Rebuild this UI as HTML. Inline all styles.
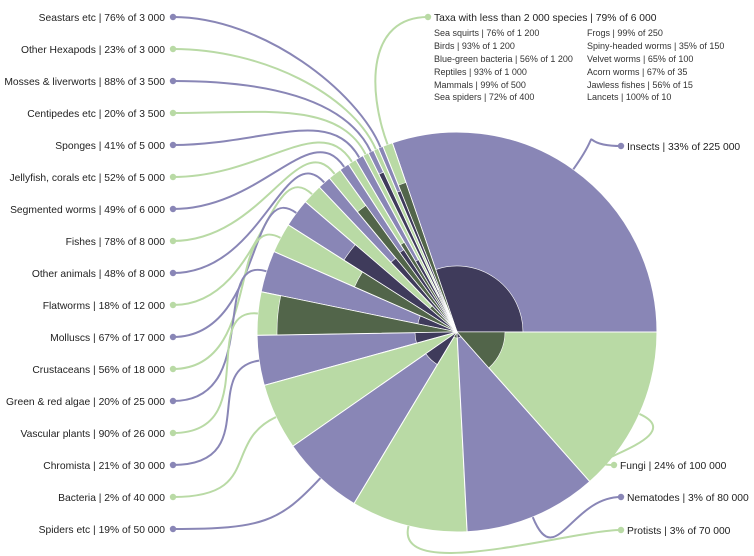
<!DOCTYPE html>
<html><head><meta charset="utf-8"><style>
body{margin:0;background:#fff;}
svg{display:block;font-family:"Liberation Sans",sans-serif;}
</style></head><body>
<svg id="chart" width="754" height="556" viewBox="0 0 754 556" xmlns="http://www.w3.org/2000/svg">
<g id="slices"></g>
<g id="links"></g>
<g id="labels"></g>
<g font-size="9" fill="#333">
<text x="434" y="36">Sea squirts | 76% of 1 200</text>
<text x="434" y="49">Birds | 93% of 1 200</text>
<text x="434" y="62">Blue-green bacteria | 56% of 1 200</text>
<text x="434" y="75">Reptiles | 93% of 1 000</text>
<text x="434" y="88">Mammals | 99% of 500</text>
<text x="434" y="100">Sea spiders | 72% of 400</text>
<text x="587" y="36">Frogs | 99% of 250</text>
<text x="587" y="49">Spiny-headed worms | 35% of 150</text>
<text x="587" y="62">Velvet worms | 65% of 100</text>
<text x="587" y="75">Acorn worms | 67% of 35</text>
<text x="587" y="88">Jawless fishes | 56% of 15</text>
<text x="587" y="100">Lancets | 100% of 10</text>
</g>
</svg>
<script>
const names=["Insects","Taxa with less than 2 000 species","Seastars etc","Other Hexapods","Mosses & liverworts","Centipedes etc","Sponges","Jellyfish, corals etc","Segmented worms","Fishes","Other animals","Flatworms","Molluscs","Crustaceans","Green & red algae","Vascular plants","Chromista","Bacteria","Spiders etc","Protists","Nematodes","Fungi"];
const counts=[225000,6000,3000,3000,3500,3500,5000,5000,6000,8000,8000,12000,17000,18000,25000,26000,30000,40000,50000,70000,80000,100000];
const pcts=[33,79,76,23,88,20,41,52,49,78,48,18,67,56,20,90,21,2,19,3,3,24];
const countLabels=["225 000","6 000","3 000","3 000","3 500","3 500","5 000","5 000","6 000","8 000","8 000","12 000","17 000","18 000","25 000","26 000","30 000","40 000","50 000","70 000","80 000","100 000"];
const NS="http://www.w3.org/2000/svg";
const cx=457,cy=332,R=200;
const LP="#8986b6",DP="#3f3b5b",LG="#b9daa5",DG="#52654a";
const total=counts.reduce((a,b)=>a+b,0);
function ang(v){return v/total*2*Math.PI;}
function pt(a,r){return [cx+r*Math.cos(a),cy-r*Math.sin(a)];}
function wedge(a0,a1,r){const p0=pt(a0,r),p1=pt(a1,r);const large=(a1-a0)>Math.PI?1:0;
return `M${cx},${cy}L${p0[0]},${p0[1]}A${r},${r} 0 ${large} 0 ${p1[0]},${p1[1]}Z`;}
const gS=document.getElementById('slices'),gL=document.getElementById('links'),gT=document.getElementById('labels');
function anchor(i){
 if(i===0) return {x:621,y:146,side:'r'};
 if(i===1) return {x:428,y:17,side:'t'};
 if(i===19) return {x:621,y:530,side:'r'};
 if(i===20) return {x:621,y:497,side:'r'};
 if(i===21) return {x:614,y:465,side:'r'};
 return {x:173,y:17+(i-2)*32,side:'l'};
}
let acc=0;
for(let i=0;i<counts.length;i++){
 const a0=ang(acc);acc+=counts[i];const a1=ang(acc);
 const purple=i%2===0;
 const light=purple?LP:LG,dark=purple?DP:DG;
 const o=document.createElementNS(NS,'path');
 o.setAttribute('d',wedge(a0,a1,R));o.setAttribute('fill',light);o.setAttribute('stroke','#fff');o.setAttribute('stroke-width','1');
 
 
 gS.appendChild(o);
 const d=document.createElementNS(NS,'path');
 d.setAttribute('d',wedge(a0,a1,R*pcts[i]/100));d.setAttribute('fill',dark);d.setAttribute('stroke','#fff');d.setAttribute('stroke-width','0.6');
 
 
 gS.appendChild(d);
 const am=(a0+a1)/2,e=pt(am,R),an=anchor(i);
 const ux=Math.cos(am),uy=-Math.sin(am);
 let c2;
 if(an.side==='l') c2=[an.x+90,an.y]; else if(an.side==='r') c2=[an.x-50,an.y]; else c2=[an.x-60,an.y];
 const ln=document.createElementNS(NS,'path');
 ln.setAttribute('d',`M${e[0]},${e[1]}C${e[0]+ux*60},${e[1]+uy*60} ${c2[0]},${c2[1]} ${an.x},${an.y}`);
 ln.setAttribute('fill','none');ln.setAttribute('stroke',light);ln.setAttribute('stroke-width','2');
 
 
 gL.appendChild(ln);
 const c=document.createElementNS(NS,'circle');
 c.setAttribute('cx',an.x);c.setAttribute('cy',an.y);c.setAttribute('r','3.2');c.setAttribute('fill',light);
 
 
 gL.appendChild(c);
 const t=document.createElementNS(NS,'text');
 t.textContent=names[i]+' | '+pcts[i]+'% of '+countLabels[i];
 t.setAttribute('font-size','10.3');t.setAttribute('fill','#222');
 t.setAttribute('y',an.y+4);
 if(an.side==='l'){t.setAttribute('x',an.x-8);t.setAttribute('text-anchor','end');}
 else {t.setAttribute('x',an.x+6);}
 
 
 gT.appendChild(t);
}
</script>
</body></html>
